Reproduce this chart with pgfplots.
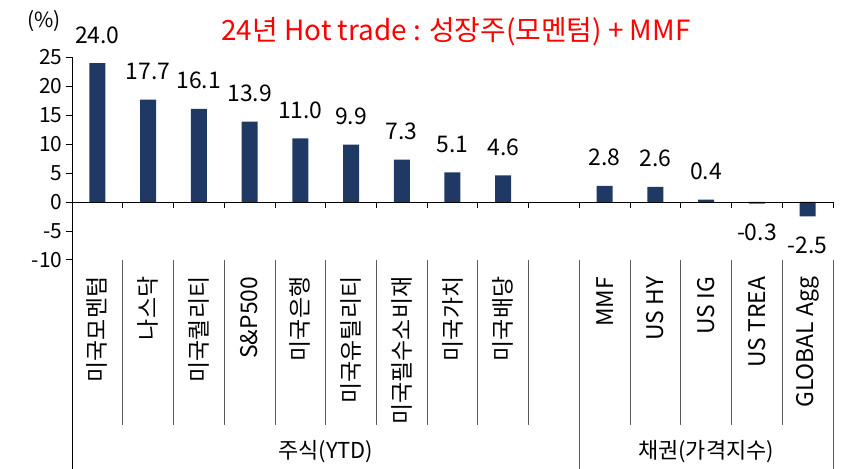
\documentclass[border=0pt]{standalone}
\usepackage{fontspec}
\setmainfont{Noto Sans CJK KR}
\usepackage{pgfplots}
\pgfplotsset{compat=1.18}
\definecolor{barblue}{RGB}{32,56,100}
\definecolor{sepgray}{RGB}{90,90,90}
\begin{document}
\begin{tikzpicture}
\begin{axis}[
  scale only axis, width=761bp, height=202.5bp,
  xmin=-0.5, xmax=14.5, ymin=-10, ymax=25,
  axis y line*=left, axis x line=none,
  ytick={-10,-5,...,25}, tick align=outside, major tick length=6bp,
  yticklabel style={font=\fontsize{21}{24}\selectfont, /pgf/number format/assume math mode=true},
  y axis line style={line width=0.8pt, black},
  ytick style={line width=0.8pt, black},
  clip=false,
  ybar, bar width=16bp,
]
\addplot[fill=barblue, draw=none, bar shift=0pt,
  nodes near coords={\pgfmathprintnumber[fixed,zerofill,precision=1,assume math mode=true]{\pgfplotspointmeta}},
  every node near coord/.append style={anchor=base, yshift=20bp, font=\fontsize{23}{26}\selectfont, black}]
  coordinates {(0,24.0) (1,17.7) (2,16.1) (3,13.9) (4,11.0) (5,9.9) (6,7.3) (7,5.1) (8,4.6) (10,2.8) (11,2.6) (12,0.4)};
\addplot[fill=barblue, draw=none, bar shift=0pt,
  nodes near coords={\pgfmathprintnumber[fixed,zerofill,precision=1,assume math mode=true]{\pgfplotspointmeta}},
  every node near coord/.append style={anchor=base, yshift=-37bp, font=\fontsize{23}{26}\selectfont, black}]
  coordinates {(13,-0.3) (14,-2.5)};
% zero line and ticks
\draw[line width=0.8pt] (axis cs:-0.5,0) -- (axis cs:14.5,0);
\pgfplotsinvokeforeach{0.5,1.5,2.5,3.5,4.5,5.5,6.5,7.5,8.5,9.5,10.5,11.5,12.5,13.5,14.5}{
  \draw[line width=0.8pt] (axis cs:#1,0) -- (axis cs:#1,-1.04);
}
% extend y axis
\draw[line width=0.8pt] (axis cs:-0.5,-10) -- (axis cs:-0.5,-46.2);
% separators
\pgfplotsinvokeforeach{0.5,1.5,2.5,3.5,4.5,5.5,6.5,7.5,8.5,10.5,11.5,12.5,13.5}{
  \draw[sepgray, line width=0.8pt] (axis cs:#1,-10) -- (axis cs:#1,-38.5);
}
\draw[sepgray, line width=0.8pt] (axis cs:9.5,-10) -- (axis cs:9.5,-46.2);
\draw[sepgray, line width=0.8pt] (axis cs:14.5,-10) -- (axis cs:14.5,-46.2);
% category labels
\tikzset{cat/.style={rotate=90, anchor=east, inner sep=0pt, font=\fontsize{23}{24}\selectfont}}
\node[cat] at (axis cs:0,-12.9) {미국모멘텀};
\node[cat] at (axis cs:1,-12.9) {나스닥};
\node[cat] at (axis cs:2,-12.9) {미국퀄리티};
\node[cat] at (axis cs:3,-12.9) {S\&P500};
\node[cat] at (axis cs:4,-12.9) {미국은행};
\node[cat] at (axis cs:5,-12.9) {미국유틸리티};
\node[cat] at (axis cs:6,-12.9) {미국필수소비재};
\node[cat] at (axis cs:7,-12.9) {미국가치};
\node[cat] at (axis cs:8,-12.9) {미국배당};
\node[cat] at (axis cs:10,-12.9) {MMF};
\node[cat] at (axis cs:11,-12.9) {US HY};
\node[cat] at (axis cs:12,-12.9) {US IG};
\node[cat] at (axis cs:13,-12.9) {US TREA};
\node[cat] at (axis cs:14,-12.9) {GLOBAL Agg};
% group labels
\node[font=\fontsize{22}{24}\selectfont] at (axis cs:4.5,-43.2) {주식(YTD)};
\node[font=\fontsize{22}{24}\selectfont] at (axis cs:12,-43.2) {채권(가격지수)};
% title and unit
\node[font=\fontsize{28}{30}\selectfont, text=red] at (axis cs:7.07,29.4) {24년 Hot trade : 성장주(모멘텀) + MMF};
\node[font=\fontsize{21}{24}\selectfont] at (axis cs:-1.05,31.3) {(\%)};
\coordinate (BL) at (axis cs:-1.919,-46.15);
\coordinate (TR) at (axis cs:14.855,34.91);
\end{axis}
\pgfresetboundingbox
\path[use as bounding box] (BL) rectangle (TR);
\end{tikzpicture}
\end{document}
